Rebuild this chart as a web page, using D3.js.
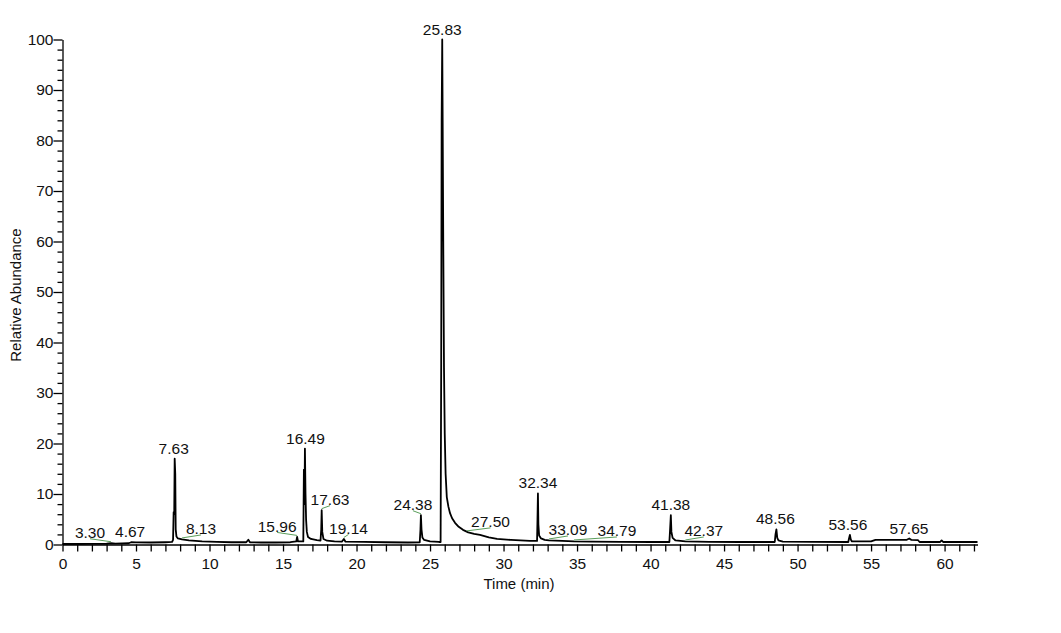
<!DOCTYPE html>
<html>
<head>
<meta charset="utf-8">
<script src="https://cdn.jsdelivr.net/npm/d3@7"></script>
<style>
  html, body { margin: 0; padding: 0; background: #fff; }
  svg { display: block; }
  text { font-family: "Liberation Sans", Arial, sans-serif; fill: #111; }
</style>
</head>
<body>
<svg id="chart" width="1061" height="633"></svg>
<script>
// ---- data: chromatogram trace (retention time, relative abundance) ----
const traceTime = [
  0.00, 1.00, 2.00, 3.00, 3.30, 3.60, 4.50, 4.67, 5.00, 6.00, 7.00, 7.45,
  7.52, 7.56, 7.60, 7.63, 7.67, 7.70, 7.75, 7.85, 8.13, 8.60, 9.50, 10.50,
  11.50, 12.50, 12.64, 12.75, 13.50, 14.50, 15.50, 15.90, 15.96, 16.02, 16.38, 16.42,
  16.46, 16.49, 16.53, 16.57, 16.62, 16.70, 16.90, 17.30, 17.55, 17.60, 17.63, 17.67,
  17.75, 18.00, 18.50, 19.00, 19.14, 19.25, 20.50, 22.00, 23.50, 24.30, 24.35, 24.38,
  24.42, 24.48, 24.60, 25.00, 25.60, 25.72, 25.76, 25.79, 25.83, 25.86, 25.90, 25.95,
  26.00, 26.06, 26.14, 26.25, 26.36, 26.50, 26.70, 26.95, 27.24, 27.60, 28.00, 28.40,
  29.00, 29.56, 30.50, 31.80, 32.28, 32.31, 32.34, 32.37, 32.42, 32.55, 32.80, 33.09,
  34.00, 34.79, 36.00, 38.00, 40.00, 41.28, 41.33, 41.38, 41.42, 41.50, 41.70, 42.37,
  44.00, 46.00, 48.45, 48.50, 48.56, 48.62, 48.70, 49.00, 51.00, 53.45, 53.50, 53.56,
  53.62, 53.70, 55.00, 55.30, 57.40, 57.60, 57.65, 57.75, 58.20, 58.30, 59.70, 59.80,
  59.90, 62.24
];
const traceAbundance = [
  0.10, 0.10, 0.12, 0.15, 0.25, 0.18, 0.25, 0.45, 0.42, 0.40, 0.45, 0.50,
  0.90, 6.40, 6.00, 17.0, 14.0, 3.00, 1.60, 1.20, 1.00, 0.80, 0.60, 0.50,
  0.45, 0.45, 0.95, 0.45, 0.40, 0.40, 0.45, 0.60, 1.50, 0.60, 0.60, 14.8,
  8.00, 19.0, 10.0, 4.90, 2.50, 1.50, 1.10, 0.85, 0.75, 3.00, 6.80, 2.50,
  1.10, 0.75, 0.60, 0.55, 1.10, 0.55, 0.50, 0.45, 0.40, 0.45, 3.00, 5.80,
  3.00, 1.40, 0.90, 0.60, 0.50, 0.50, 36.0, 84.0, 100.0, 83.5, 60.0, 35.0,
  22.0, 14.0, 9.40, 7.50, 6.20, 5.20, 4.30, 3.50, 2.90, 2.40, 2.10, 1.90,
  1.40, 1.10, 0.90, 0.70, 0.70, 5.00, 10.1, 4.00, 1.80, 1.20, 0.90, 0.80,
  0.70, 0.60, 0.55, 0.50, 0.50, 0.50, 3.00, 5.80, 2.50, 1.30, 0.80, 0.60,
  0.50, 0.50, 0.50, 2.00, 3.00, 1.30, 0.80, 0.55, 0.50, 0.50, 1.20, 1.90,
  1.00, 0.60, 0.60, 0.90, 0.90, 1.20, 1.10, 0.90, 0.85, 0.50, 0.50, 0.80,
  0.50, 0.50
];
// peak labels (retention times)
const peakLabels = [3.30, 4.67, 7.63, 8.13, 15.96, 16.49, 17.63, 19.14, 24.38, 25.83,
                    27.50, 32.34, 33.09, 34.79, 41.38, 42.37, 48.56, 53.56, 57.65];
// axis ticks
const xMajorTicks = [0, 5, 10, 15, 20, 25, 30, 35, 40, 45, 50, 55, 60];
const yMajorTicks = [0, 10, 20, 30, 40, 50, 60, 70, 80, 90, 100];
const xTitle = "Time (min)";
const yTitle = "Relative Abundance";

// ---- layout (pixel offsets of labels relative to their peak) ----
const labelDx = {"3.30": -21, "4.67": -1, "7.63": -1, "8.13": 19, "15.96": -20, "16.49": 0.5,
  "17.63": 8.3, "19.14": 4.6, "24.38": -8, "25.83": 0, "27.50": 23.7, "32.34": 0,
  "33.09": 19, "34.79": 43, "41.38": 0, "42.37": 18.4, "48.56": -1, "53.56": -2, "57.65": -1};
const leaderLabels = ["3.30", "8.13", "15.96", "17.63", "19.14", "24.38", "27.50", "33.09", "34.79", "42.37"];

const W = 1061, H = 633;
const svg = d3.select("#chart");

const x = d3.scaleLinear().domain([0, 62.24]).range([62.5, 977.5]);
const y = d3.scaleLinear().domain([0, 100]).range([544.5, 39.5]);

const fontSize = 15.5;

// ---- axes ----
const xMinor = d3.range(0, 63, 1).filter(v => v % 5 !== 0);
const yMinor = d3.range(0, 101, 2).filter(v => v % 10 !== 0);

const gx = svg.append("g").attr("transform", `translate(0,${y(0)})`);
gx.call(d3.axisBottom(x).tickValues(xMinor).tickSize(7).tickSizeOuter(0).tickFormat(""));
gx.call(g => g.select(".domain").remove());
const gx2 = svg.append("g").attr("transform", `translate(0,${y(0)})`);
gx2.call(d3.axisBottom(x).tickValues(xMajorTicks).tickSize(7).tickSizeOuter(0).tickPadding(6.5).tickFormat(d3.format("d")));

const gy = svg.append("g").attr("transform", `translate(${x(0)},0)`);
gy.call(d3.axisLeft(y).tickValues(yMinor).tickSize(5).tickSizeOuter(0).tickFormat(""));
gy.call(g => g.select(".domain").remove());
const gy2 = svg.append("g").attr("transform", `translate(${x(0)},0)`);
gy2.call(d3.axisLeft(y).tickValues(yMajorTicks).tickSize(9).tickSizeOuter(0).tickPadding(0).tickFormat(d3.format("d")));

svg.selectAll(".domain, .tick line").attr("stroke", "#000").attr("stroke-width", 1.3);
svg.selectAll(".tick text").attr("font-size", fontSize).attr("font-family", "Liberation Sans, Arial, sans-serif").attr("fill", "#111");

// axis titles
svg.append("text").attr("x", 519).attr("y", 589).attr("text-anchor", "middle")
  .attr("font-size", 15).text(xTitle);
svg.append("text").attr("transform", `translate(20.5,295) rotate(-90)`).attr("text-anchor", "middle")
  .attr("font-size", 15).text(yTitle);

// ---- trace ----
const pts = traceTime.map((t, i) => [t, traceAbundance[i]]);
svg.append("path").datum(pts)
  .attr("fill", "none").attr("stroke", "#000").attr("stroke-width", 1.8).attr("stroke-linejoin", "round")
  .attr("d", d3.line().x(d => x(d[0])).y(d => y(d[1])));

// ---- peak labels ----
function apex(rt) {
  let best = 0, bd = Infinity;
  traceTime.forEach((t, i) => { const d = Math.abs(t - rt); if (d < bd) { bd = d; best = i; } });
  return traceAbundance[best];
}
peakLabels.forEach(rt => {
  const key = rt.toFixed(2);
  const a = apex(rt);
  const px = x(rt), py = y(a);
  const lx = px + (labelDx[key] || 0);
  const by = py - 5;
  if (leaderLabels.includes(key)) {
    svg.append("line").attr("x1", px).attr("y1", py - 1.5).attr("x2", lx).attr("y2", by + 0.5)
      .attr("stroke", "#5a9e5a").attr("stroke-width", 1);
  }
  svg.append("text").attr("x", lx).attr("y", by).attr("text-anchor", "middle")
    .attr("font-size", fontSize).text(key);
});
</script>
</body>
</html>
